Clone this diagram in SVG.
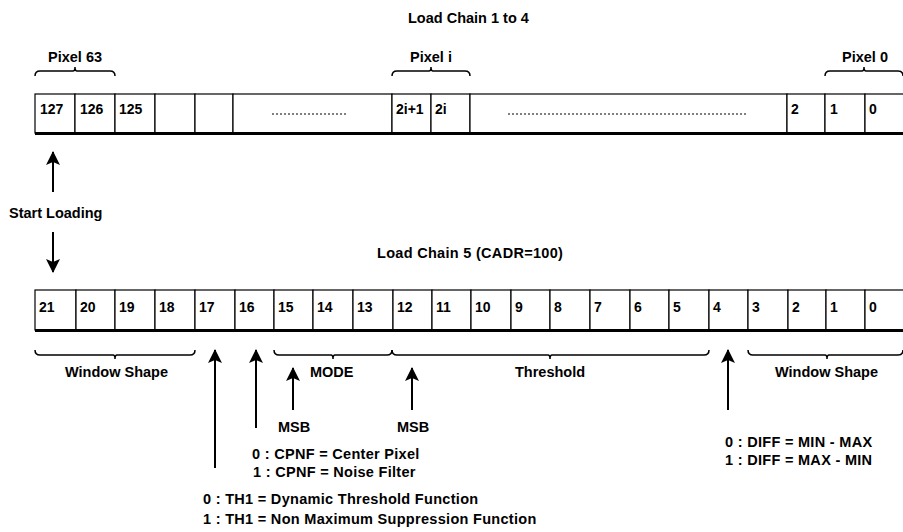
<svg xmlns="http://www.w3.org/2000/svg" width="903" height="532" viewBox="0 0 903 532">
<style>
text{font-family:"Liberation Sans",Arial,sans-serif;font-weight:bold;font-size:14.5px;fill:#000}
.num{font-size:14px}
.desc{letter-spacing:0.3px}
.cell{fill:#fff;stroke:#000;stroke-width:1.2}
.base{stroke:#000;stroke-width:3}
.brace{fill:none;stroke:#000;stroke-width:1.5}
.dots{stroke:#000;stroke-width:1;stroke-dasharray:2 2}
.arr{stroke:#000;stroke-width:2;fill:none;marker-end:url(#ah)}
</style>
<defs>
<marker id="ah" markerUnits="userSpaceOnUse" markerWidth="16" markerHeight="16" refX="13" refY="7.5" orient="auto">
<path d="M0,0.5 L14,7.5 L0,14.5 L3,7.5 z" fill="#000"/>
</marker>
</defs>
<text x="408" y="23">Load Chain 1 to 4</text>
<g id="chain1">
<rect class="cell" x="35" y="94" width="40" height="39"/>
<rect class="cell" x="75" y="94" width="40" height="39"/>
<rect class="cell" x="115" y="94" width="40" height="39"/>
<rect class="cell" x="155" y="94" width="40" height="39"/>
<rect class="cell" x="195" y="94" width="38" height="39"/>
<rect class="cell" x="233" y="94" width="159" height="39"/>
<rect class="cell" x="392" y="94" width="39" height="39"/>
<rect class="cell" x="431" y="94" width="39" height="39"/>
<rect class="cell" x="470" y="94" width="317" height="39"/>
<rect class="cell" x="787" y="94" width="38" height="39"/>
<rect class="cell" x="825" y="94" width="40" height="39"/>
<rect class="cell" x="865" y="94" width="40" height="39"/>
<line class="base" x1="35" y1="133.5" x2="905" y2="133.5"/>
<text class="num" x="40" y="114">127</text>
<text class="num" x="80" y="114">126</text>
<text class="num" x="119" y="114">125</text>
<text class="num" x="396" y="114">2i+1</text>
<text class="num" x="435" y="114">2i</text>
<text class="num" x="791" y="114">2</text>
<text class="num" x="830" y="114">1</text>
<text class="num" x="869" y="114">0</text>
<line class="dots" x1="272" y1="114" x2="348" y2="114"/>
<line class="dots" x1="508" y1="114" x2="747" y2="114"/>
</g>
<g id="pixel63">
<text x="48" y="62">Pixel 63</text>
<path class="brace" d="M35,76 Q35,71 40,71 L73,71 Q75,71 75,67 Q75,71 77,71 L110,71 Q115,71 115,76"/>
</g>
<g id="pixeli">
<text x="410" y="62">Pixel i</text>
<path class="brace" d="M392,76 Q392,71 397,71 L429,71 Q431,71 431,67 Q431,71 433,71 L465,71 Q470,71 470,76"/>
</g>
<g id="pixel0">
<text x="842" y="62">Pixel 0</text>
<path class="brace" d="M825,76 Q825,71 830,71 L862,71 Q864,71 864,67 Q864,71 866,71 L898,71 Q903,71 903,76"/>
</g>
<g id="startloading">
<text x="9" y="218">Start Loading</text>
</g>
<text x="377" y="258" class="desc">Load Chain 5 (CADR=100)</text>
<g id="chain5">
<rect class="cell" x="35" y="290" width="41" height="40"/>
<rect class="cell" x="76" y="290" width="39" height="40"/>
<rect class="cell" x="115" y="290" width="40" height="40"/>
<rect class="cell" x="155" y="290" width="40" height="40"/>
<rect class="cell" x="195" y="290" width="40" height="40"/>
<rect class="cell" x="235" y="290" width="39" height="40"/>
<rect class="cell" x="274" y="290" width="39" height="40"/>
<rect class="cell" x="313" y="290" width="40" height="40"/>
<rect class="cell" x="353" y="290" width="40" height="40"/>
<rect class="cell" x="393" y="290" width="39" height="40"/>
<rect class="cell" x="432" y="290" width="39" height="40"/>
<rect class="cell" x="471" y="290" width="40" height="40"/>
<rect class="cell" x="511" y="290" width="39" height="40"/>
<rect class="cell" x="550" y="290" width="40" height="40"/>
<rect class="cell" x="590" y="290" width="40" height="40"/>
<rect class="cell" x="630" y="290" width="39" height="40"/>
<rect class="cell" x="669" y="290" width="40" height="40"/>
<rect class="cell" x="709" y="290" width="39" height="40"/>
<rect class="cell" x="748" y="290" width="40" height="40"/>
<rect class="cell" x="788" y="290" width="38" height="40"/>
<rect class="cell" x="826" y="290" width="39" height="40"/>
<rect class="cell" x="865" y="290" width="40" height="40"/>
<line class="base" x1="35" y1="330.5" x2="905" y2="330.5"/>
<text class="num" x="39" y="312">21</text>
<text class="num" x="80" y="312">20</text>
<text class="num" x="119" y="312">19</text>
<text class="num" x="159" y="312">18</text>
<text class="num" x="199" y="312">17</text>
<text class="num" x="239" y="312">16</text>
<text class="num" x="278" y="312">15</text>
<text class="num" x="317" y="312">14</text>
<text class="num" x="357" y="312">13</text>
<text class="num" x="397" y="312">12</text>
<text class="num" x="436" y="312">11</text>
<text class="num" x="475" y="312">10</text>
<text class="num" x="515" y="312">9</text>
<text class="num" x="554" y="312">8</text>
<text class="num" x="594" y="312">7</text>
<text class="num" x="634" y="312">6</text>
<text class="num" x="673" y="312">5</text>
<text class="num" x="713" y="312">4</text>
<text class="num" x="752" y="312">3</text>
<text class="num" x="792" y="312">2</text>
<text class="num" x="830" y="312">1</text>
<text class="num" x="869" y="312">0</text>
</g>
<g id="windowshape-left">
<path class="brace" d="M35,350 Q35,355 40,355 L113,355 Q115,355 115,359 Q115,355 117,355 L190,355 Q195,355 195,350"/>
<text x="65" y="377">Window Shape</text>
</g>
<g id="mode">
<path class="brace" d="M274,350 Q274,355 279,355 L331,355 Q333,355 333,359 Q333,355 335,355 L387,355 Q392,355 392,350"/>
<text x="310" y="377">MODE</text>
</g>
<g id="threshold">
<path class="brace" d="M392,350 Q392,355 397,355 L548,355 Q550,355 550,359 Q550,355 552,355 L704,355 Q709,355 709,350"/>
<text x="515" y="377">Threshold</text>
</g>
<g id="windowshape-right">
<path class="brace" d="M748,350 Q748,355 753,355 L825,355 Q827,355 827,359 Q827,355 829,355 L898,355 Q903,355 903,350"/>
<text x="775" y="377">Window Shape</text>
</g>
<g id="msb-mode"><text x="278" y="432">MSB</text></g>
<g id="msb-threshold"><text x="397" y="432">MSB</text></g>
<g id="cpnf">
<text class="desc" x="252" y="459">0 : CPNF = Center Pixel</text>
<text class="desc" x="253" y="477">1 : CPNF = Noise Filter</text>
</g>
<g id="th1">
<text class="desc" x="203" y="504">0 : TH1 = Dynamic Threshold Function</text>
<text class="desc" x="203" y="524">1 : TH1 = Non Maximum Suppression Function</text>
</g>
<g id="diff">
<text class="desc" x="725" y="447">0 : DIFF = MIN - MAX</text>
<text class="desc" x="725" y="465">1 : DIFF = MAX - MIN</text>
</g>
<g id="connectors">
<line class="arr" x1="53" y1="192" x2="53" y2="152"/>
<line class="arr" x1="53" y1="232" x2="53" y2="272"/>
<line class="arr" x1="215" y1="468" x2="215" y2="350"/>
<line class="arr" x1="256" y1="428" x2="256" y2="350"/>
<line class="arr" x1="293" y1="410" x2="293" y2="368"/>
<line class="arr" x1="412" y1="410" x2="412" y2="368"/>
<line class="arr" x1="728" y1="410" x2="728" y2="350"/>
</g>
</svg>
